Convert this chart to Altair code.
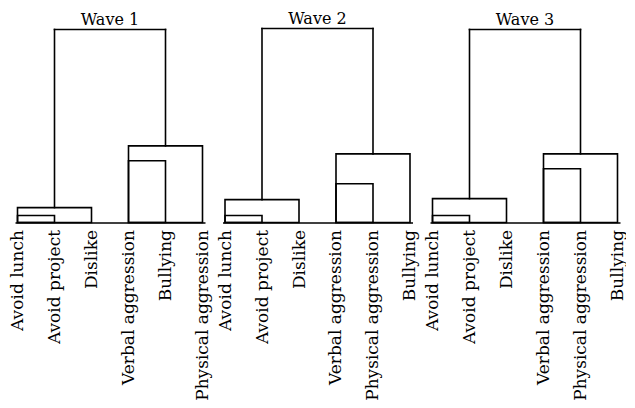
import json
import altair as alt
import pandas as pd

waves = ["Wave 1", "Wave 2", "Wave 3"]

leaves_w1 = ["Avoid lunch", "Avoid project", "Dislike",
             "Verbal aggression", "Bullying", "Physical aggression"]
leaves_w2 = ["Avoid lunch", "Avoid project", "Dislike",
             "Verbal aggression", "Physical aggression", "Bullying"]
leaves_w3 = ["Avoid lunch", "Avoid project", "Dislike",
             "Verbal aggression", "Physical aggression", "Bullying"]

# merge heights: [leaf1+leaf2, leaves1-3, leaf4+leaf5, leaves4-6, top join]
heights_w1 = [0.7, 1.5, 6.2, 7.7, 19.4]
heights_w2 = [0.7, 2.3, 3.9, 6.9, 19.5]
heights_w3 = [0.7, 2.4, 5.4, 6.9, 19.4]

leaves = [leaves_w1, leaves_w2, leaves_w3]
heights = [heights_w1, heights_w2, heights_w3]

FONT = "DejaVu Serif"
SW = 1.6
PAD = 0.0676


def panel(title, labels, h):
    n = len(labels)
    idx = list(range(n))
    left = idx[:3]
    right = idx[3:]
    boxes = pd.DataFrame({
        "x": [left[0], left[0], right[0], right[0]],
        "x2": [left[1], left[2], right[1], right[2]],
        "y": [0, 0, 0, 0],
        "y2": [h[0], h[1], h[2], h[3]],
    })
    lc = sum(left) / len(left)
    rc = sum(right) / len(right)
    rules = pd.DataFrame({
        "x": [lc, rc, lc],
        "x2": [lc, rc, rc],
        "y": [h[1], h[3], h[4]],
        "y2": [h[4], h[4], h[4]],
    })
    xenc = alt.X(
        "x:Q",
        scale=alt.Scale(domain=[-PAD, n - 1 + PAD], nice=False, zero=False),
        axis=alt.Axis(
            values=idx,
            labelExpr=json.dumps(labels) + "[datum.value]",
            labelAngle=-90,
            ticks=False,
            grid=False,
            title=None,
            domainColor="black",
            domainWidth=SW,
            labelPadding=7,
            labelFont=FONT,
            labelFontSize=17,
            labelColor="black",
            labelOverlap=False,
            labelFlush=False,
        ),
    )
    yenc = alt.Y("y:Q", scale=alt.Scale(domain=[0, 19.5], nice=False), axis=None)
    r = alt.Chart(boxes).mark_rect(filled=False, stroke="black", strokeWidth=SW).encode(
        x=xenc, x2="x2:Q", y=yenc, y2="y2:Q")
    l = alt.Chart(rules).mark_rule(color="black", strokeWidth=SW, strokeCap="square").encode(
        x=xenc, x2="x2:Q", y=yenc, y2="y2:Q")
    return alt.layer(r, l).properties(
        width=190, height=194,
        title=alt.TitleParams(title, font=FONT, fontSize=16, fontWeight="normal",
                              color="black", offset=0),
    )


chart = alt.hconcat(
    *[panel(w, lv, hv) for w, lv, hv in zip(waves, leaves, heights)],
    spacing=17.5,
    bounds="flush",
).configure(background="white").configure_view(stroke=None).properties(
    padding={"left": 0, "top": 2.5, "right": 0, "bottom": 0}
)

chart.save("out.html", embed_options={"renderer": "svg", "actions": False})
